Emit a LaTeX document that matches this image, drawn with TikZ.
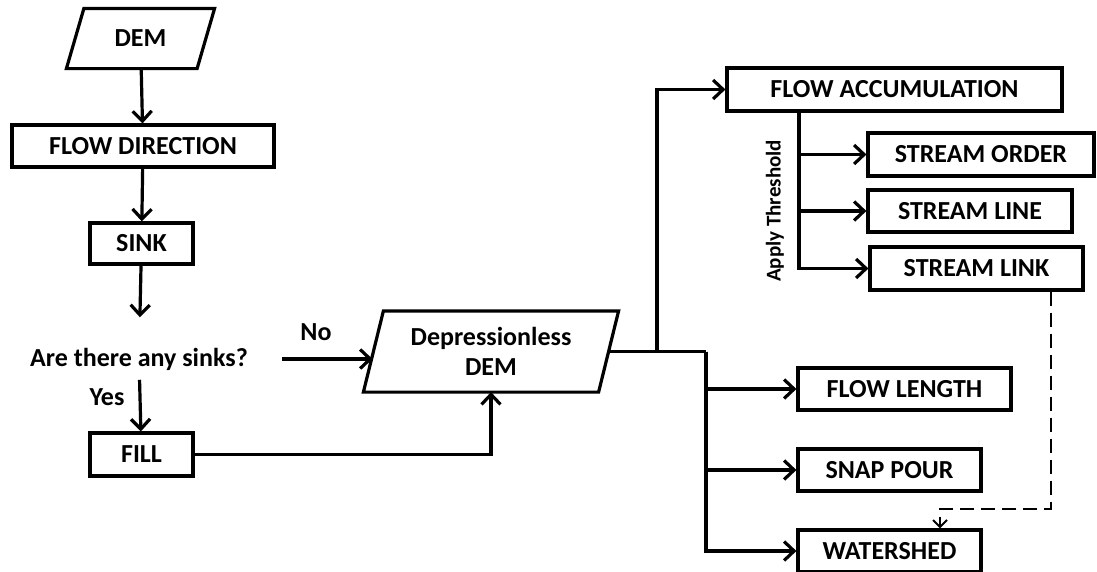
\documentclass[tikz,border=0pt]{standalone}
\usepackage{fontspec}
\setmainfont{Carlito}
\usetikzlibrary{arrows.meta}
% outline of a slanted input/output box around a rectangular node
\newcommand\slantframe[2]{%
  \draw (#1.south west) -- ([xshift=#2]#1.north west) -- (#1.north east)
        -- ([xshift=-#2]#1.south east) -- cycle;}
\begin{document}
\begin{tikzpicture}[x=1pt,y=-1pt,
  font=\fontsize{26}{30}\selectfont\bfseries,
  line width=3.2pt,
  box/.style={draw, rectangle, inner sep=0pt},
  label/.style={inner sep=0pt},
  databox/.style={rectangle, inner sep=0pt, align=center},
  arr/.style={-{Straight Barb[length=10pt,width=19pt]}},
  dashlink/.style={line width=2pt, dash pattern=on 14pt off 7pt,
    -{Straight Barb[length=7pt,width=14pt]}}
]
\useasboundingbox (0,0) rectangle (1097,571);

% left column
\node[databox, minimum width=145pt, minimum height=57pt] (dem) at (140.5,38.5) {DEM};
\slantframe{dem}{17.5pt}
\node[box, minimum width=262pt, minimum height=42pt] (fd) at (143,146) {FLOW DIRECTION};
\node[box, minimum width=103pt, minimum height=41pt] (sink) at (141.5,243.5) {SINK};
\node[label] (q) at (139,359) {Are there any sinks?};
\node[label] (yes) at (107,397) {Yes};
\node[box, minimum width=103pt, minimum height=43pt] (fill) at (141.5,454.5) {FILL};
\node[label] (no) at (316,332) {No};

% filled surface
\node[databox, minimum width=252pt, minimum height=78pt] (dd) at (491,351.5) {Depressionless\\DEM};
\slantframe{dd}{20pt}
\coordinate (ddin) at (372.5,359);
\coordinate (ddout) at ([xshift=-10pt]dd.east);

% stream network
\node[box, minimum width=335pt, minimum height=43pt] (fa) at (894.5,89.5) {FLOW ACCUMULATION};
\node[box, minimum width=226pt, minimum height=43pt] (so) at (981,154.5) {STREAM ORDER};
\node[box, minimum width=204pt, minimum height=42pt] (sl) at (970,211) {STREAM LINE};
\node[box, minimum width=213pt, minimum height=43pt] (slk) at (976.5,268.5) {STREAM LINK};
\node[label, rotate=90, font=\fontsize{21}{25}\selectfont\bfseries] (thr) at (775,211) {Apply Threshold};

% basin products
\node[box, minimum width=213pt, minimum height=42pt] (fl) at (904.5,389) {FLOW LENGTH};
\node[box, minimum width=183pt, minimum height=42pt] (sp) at (889.5,470) {SNAP POUR};
\node[box, minimum width=183pt, minimum height=42pt] (ws) at (889.5,551) {WATERSHED};

% junctions
\coordinate (j1) at (657,351.5);
\coordinate (j2) at (706,351.5);
\coordinate (t) at ([xshift=-95.5pt]fa.south);
\coordinate (d1) at ([xshift=74.5pt]slk.south);
\coordinate (d2) at (940,509);

% connectors
\draw[arr] (dem) -- (fd);
\draw[arr] (fd) -- (sink);
\draw[arr, shorten >=29pt] (sink) -- (q);
\draw[arr, shorten <=8pt] (q) -- (fill);
\draw[arr, shorten <=33pt] (q.east) -- (q.east -| ddin);
\draw[arr] (fill) -| (dd.south);
\draw (ddout) -- (j2);
\draw[arr] (j1) |- (fa);
\draw[arr] (t) |- (so);
\draw[arr] (t) |- (sl);
\draw[arr] (t) |- (slk);
\draw[arr] (j2) |- (fl);
\draw[arr] (j2) |- (sp);
\draw[arr] (j2) |- (ws);
\draw[dashlink] (d1) |- (d2) -- (d2 |- ws.north);
\end{tikzpicture}
\end{document}
